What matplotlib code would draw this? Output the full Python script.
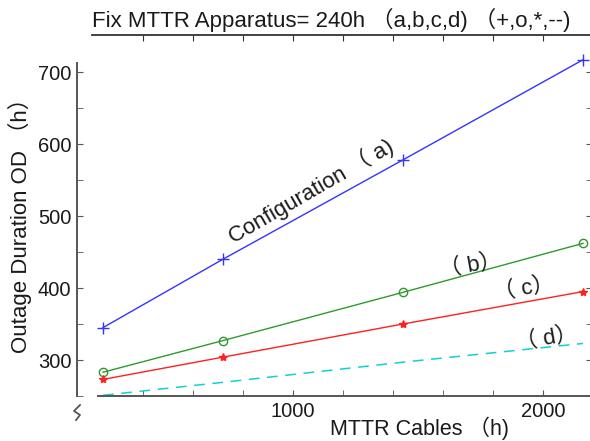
import matplotlib
matplotlib.use('Agg')
import matplotlib.pyplot as plt
import numpy as np

plt.rcParams['font.family'] = ['Liberation Sans', 'Noto Sans CJK SC', 'DejaVu Sans']

# MTTR cables (h)
mttr_cables = [240, 720, 1440, 2160]
# outage duration for configurations a..d
od_a = [345, 440, 578, 717]
od_b = [283, 327, 394, 462]
od_c = [273, 304, 350, 395]
od_d = [251, 269, 297, 323]

title_text = 'Fix MTTR Apparatus= 240h （a,b,c,d) （+,o,*,--)'
xlabel_text = 'MTTR Cables （h)'
ylabel_text = 'Outage Duration OD （h）'

W, H = 590, 441
fig = plt.figure(figsize=(W / 100, H / 100), dpi=100)

def px(x0, y0, x1, y1):
    return [x0 / W, 1 - y1 / H, (x1 - x0) / W, (y1 - y0) / H]

ax = fig.add_axes(px(98, 63, 592, 396))
grey = '#555555'
txt = '#1a1a1a'

ax.plot(mttr_cables, od_a, color='#3333ff', marker='+', markersize=8, lw=1, clip_on=False)
ax.plot(mttr_cables, od_b, color='#2e9a2e', marker='o', markersize=6, mfc='none', lw=1, clip_on=False)
ax.plot(mttr_cables, od_c, color='#ff2020', marker='*', markersize=6, lw=1, clip_on=False)
ax.plot(mttr_cables, od_d, color='#10d0d0', ls=(0, (7, 5)), lw=1.1, clip_on=False)

ax.set_xlim(220, 2196)
ax.set_ylim(250, 712.5)

ax.set_xticks([1000, 2000])
ax.set_xticks(np.arange(400, 2200, 200), minor=True)
ax.set_yticks([300, 400, 500, 600, 700])
ax.set_yticks(np.arange(250, 713, 50), minor=True)

ax.spines['top'].set_visible(False)
for s in ['left', 'bottom', 'right']:
    ax.spines[s].set_color(grey)
    ax.spines[s].set_linewidth(1.4)
ax.spines['left'].set_position(('outward', 15.1))

ax.tick_params(which='both', direction='in', colors=grey, labelcolor=txt,
               labelsize=14.5, right=True, labelright=False, length=4.5, pad=4)

# axis titles
fig.text(330 / W, 1 - 435 / H, xlabel_text, fontsize=15.5, color=txt,
         ha='left', va='baseline')
fig.text(20 / W, 1 - 353 / H, ylabel_text, fontsize=16, color=txt,
         rotation=90, ha='center', va='bottom')

# curve labels
ax.text(0.43, 0.615, 'Configuration （ a)', transform=ax.transAxes, rotation=30,
        fontsize=16, ha='center', va='center', color=txt)
ax.text(0.755, 0.39, '（ b）', transform=ax.transAxes, rotation=10,
        fontsize=16, ha='center', va='center', color=txt)
ax.text(0.862, 0.322, '（ c）', transform=ax.transAxes, rotation=10,
        fontsize=16, ha='center', va='center', color=txt)
ax.text(0.908, 0.17, '（ d）', transform=ax.transAxes, rotation=10,
        fontsize=16, ha='center', va='center', color=txt)

# axis break mark below the y axis
brk_x = np.array([80, 74, 80, 76]) / W
brk_y = 1 - np.array([405, 411, 415, 420]) / H
fig.add_artist(plt.Line2D(brk_x, brk_y, color=grey, lw=1.3))

# title strip: line with the same x ticks as the plot
axt = fig.add_axes(px(92, 35, 592, 42))
axt.set_xlim(196, 2196)
axt.set_ylim(0, 1)
for s in ['left', 'right', 'bottom']:
    axt.spines[s].set_visible(False)
axt.spines['top'].set_color('#333333')
axt.spines['top'].set_linewidth(1.3)
axt.set_yticks([])
axt.set_xticks(np.arange(400, 2200, 200))
axt.tick_params(axis='x', top=True, bottom=False, labelbottom=False,
                direction='in', length=4.5, colors='#333333')
axt.patch.set_alpha(0)

fig.text(92 / W, 1 - 27 / H, title_text, fontsize=16, color=txt,
         ha='left', va='baseline')

fig.savefig('out.png', dpi=100, facecolor='white')
